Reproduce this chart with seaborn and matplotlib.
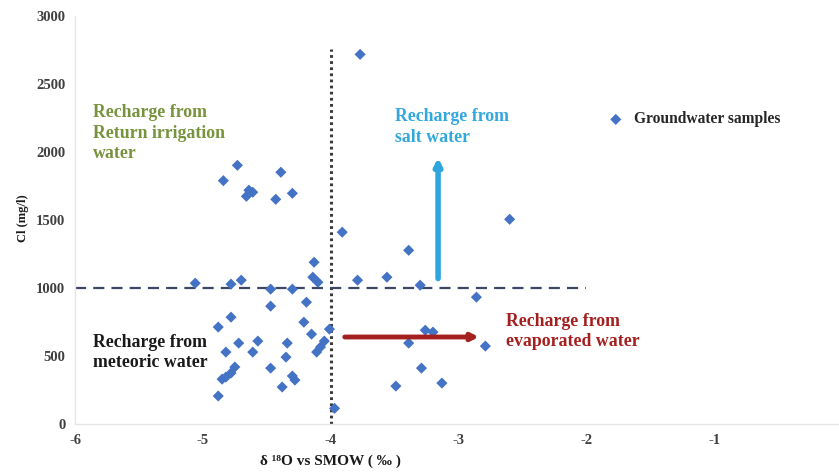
import matplotlib
matplotlib.use("Agg")
import matplotlib.pyplot as plt
import seaborn as sns
import pandas as pd

# Groundwater samples: delta 18O (per mil vs SMOW) and chloride (mg/l)
d18o = [
    -4.73, -4.84, -4.64, -4.66, -4.61, -4.39, -4.43, -4.30,
    -3.77, -3.91,
    -5.06, -4.78, -4.70, -4.47, -4.30, -4.13, -4.14, -4.10,
    -4.47, -4.19, -4.21, -4.15, -4.01, -4.05, -4.08, -4.11,
    -4.88, -4.78, -4.82, -4.72, -4.61, -4.57, -4.75, -4.78, -4.82, -4.85,
    -4.88, -4.47, -4.38, -4.34, -4.35, -4.30, -4.28, -3.97,
    -3.39, -3.79, -3.56, -3.30, -2.86, -2.60, -3.26, -3.20, -3.39,
    -2.79, -3.29, -3.49, -3.13,
]
chloride = [
    1903, 1790, 1720, 1675, 1705, 1852, 1653, 1697,
    2719, 1411,
    1036, 1029, 1058, 992, 992, 1190, 1080, 1043,
    867, 896, 749, 661, 698, 610, 566, 529,
    713, 786, 529, 595, 529, 610, 419, 375, 345, 330,
    206, 411, 272, 595, 492, 353, 323, 115,
    1278, 1058, 1080, 1021, 933, 1506, 690, 676, 595,
    573, 411, 279, 301,
]

x_ticks = [-6, -5, -4, -3, -2, -1, 0]
y_ticks = [0, 500, 1000, 1500, 2000, 2500, 3000]

df = pd.DataFrame({"d18O": d18o, "Cl": chloride})

sns.set_style("white")
plt.rcParams["font.family"] = ["Liberation Serif", "DejaVu Serif"]
plt.rcParams["font.weight"] = "bold"

fig = plt.figure(figsize=(8.39, 4.72), dpi=100)
ax = fig.add_axes([0.0895, 0.1017, 0.914, 0.864])

sns.scatterplot(data=df, x="d18O", y="Cl", marker="D", s=32, color="#4472C4",
                edgecolor="none", linewidth=0, ax=ax, label="Groundwater samples",
                zorder=3)

# Dividing lines: delta 18O = -4 and Cl = 1000 mg/l
ax.plot([-4, -4], [0, 2760], color="#3a3a3a", lw=2.2, linestyle=(0, (0.9, 1.1)),
        zorder=2)
ax.plot([-6, -2], [1000, 1000], color="#3d4663", lw=1.6, linestyle=(0, (5, 3.2)),
        zorder=2)

# Trend arrows
ax.annotate("", xy=(-3.16, 1960), xytext=(-3.16, 1070),
            arrowprops=dict(arrowstyle="-|>", lw=4, color="#2EA6DC",
                            mutation_scale=10, shrinkA=0, shrinkB=0), zorder=4)
ax.annotate("", xy=(-2.84, 640), xytext=(-3.89, 640),
            arrowprops=dict(arrowstyle="-|>", lw=3.5, color="#A3201F",
                            mutation_scale=10, shrinkA=0, shrinkB=0), zorder=4)

# Region labels
txt = dict(fontsize=12.8, fontweight="bold", va="top", ha="left", linespacing=1.28)
ax.text(-5.86, 2355, "Recharge from\nReturn irrigation\nwater", color="#77933C", **txt)
ax.text(-3.50, 2325, "Recharge from\nsalt water", color="#33A8DF", **txt)
ax.text(-5.86, 665, "Recharge from\nmeteoric water", color="#1a1a1a", **txt)
ax.text(-2.63, 820, "Recharge from\nevaporated water", color="#A3201F", **txt)

ax.set_xlim(-6, 0)
ax.set_ylim(0, 3000)
ax.set_xticks(x_ticks)
ax.set_yticks(y_ticks)
ax.set_xticklabels([str(v) for v in x_ticks], fontsize=10.5, fontweight="bold", color="#404040")
ax.set_yticklabels([str(v) for v in y_ticks], fontsize=10.5, fontweight="bold", color="#404040")
ax.tick_params(length=0, pad=7)

ax.set_xlabel("δ ¹⁸O vs SMOW ( ‰ )", fontsize=11, fontweight="bold", color="#1a1a1a")
ax.xaxis.set_label_coords(0.333, -0.075)
ax.set_ylabel("Cl (mg/l)", fontsize=9, fontweight="bold", color="#1a1a1a")
ax.yaxis.set_label_coords(-0.06, 0.505)

for side in ["top", "right"]:
    ax.spines[side].set_visible(False)
for side in ["left", "bottom"]:
    ax.spines[side].set_color("#e6e6e6")
    ax.spines[side].set_linewidth(1.0)

leg = ax.legend(loc="upper left", bbox_to_anchor=(0.708, 0.777),
                bbox_transform=fig.transFigure, frameon=False,
                handletextpad=0.2, borderaxespad=0, prop=dict(size=11.2, weight="bold"))

fig.savefig("out.png", dpi=100)
